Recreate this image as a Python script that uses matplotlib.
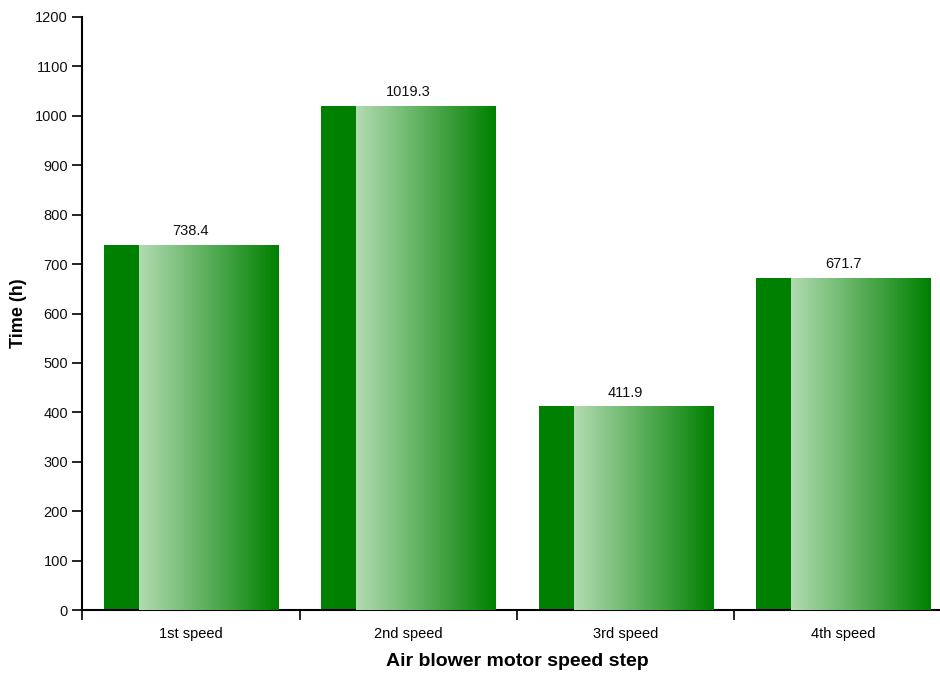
import numpy as np
import matplotlib.pyplot as plt
from matplotlib.colors import LinearSegmentedColormap

plt.rcParams["font.family"] = ["Liberation Sans", "DejaVu Sans"]

categories = ["1st speed", "2nd speed", "3rd speed", "4th speed"]
hours = [738.4, 1019.3, 411.9, 671.7]

fig = plt.figure(figsize=(9.4, 6.75), dpi=100)
# right edge of the axis runs past the image, as in the reference
ax = fig.add_axes([82 / 940, 65 / 675, 870 / 940, 593 / 675])

x = np.arange(len(categories))
bars = ax.bar(x, hours, width=0.8, color="#008000", zorder=2)

cmap = LinearSegmentedColormap.from_list("grn", ["#b2dbb2", "#008000"])
grad = np.linspace(0, 1, 256).reshape(1, -1)
for b in bars:
    x0, w, h = b.get_x(), b.get_width(), b.get_height()
    ax.imshow(grad, cmap=cmap, aspect="auto", zorder=3,
              extent=[x0 + 0.2 * w, x0 + w, 0, h], interpolation="bilinear")
    ax.text(x0 + w / 2, h + 14, f"{h:.1f}", ha="center", va="bottom",
            fontsize=10.5, color="#111111")

ax.set_xlim(-0.5, len(categories) - 0.5)
ax.set_ylim(0, 1200)
ax.set_yticks(np.arange(0, 1201, 100))
ax.set_xticks(np.arange(-0.5, len(categories), 1.0))
ax.set_xticklabels([])
ax.set_xticks(x, minor=True)
ax.set_xticklabels(categories, minor=True)
ax.tick_params(axis="x", which="minor", length=0, pad=12, labelsize=10.5)
ax.tick_params(axis="both", which="major", length=7, width=1.2, labelsize=10.5,
               labelcolor="#111111")
ax.tick_params(axis="y", pad=3)

for s in ["top", "right"]:
    ax.spines[s].set_visible(False)
for s in ["left", "bottom"]:
    ax.spines[s].set_linewidth(1.5)

ax.set_ylabel("Time (h)", fontsize=13, fontweight="bold")
ax.yaxis.set_label_coords(-0.063, 0.5)
ax.set_xlabel("Air blower motor speed step", fontsize=14, fontweight="bold")
ax.xaxis.set_label_coords(0.5, -0.073)

fig.savefig("out.png", dpi=100)
